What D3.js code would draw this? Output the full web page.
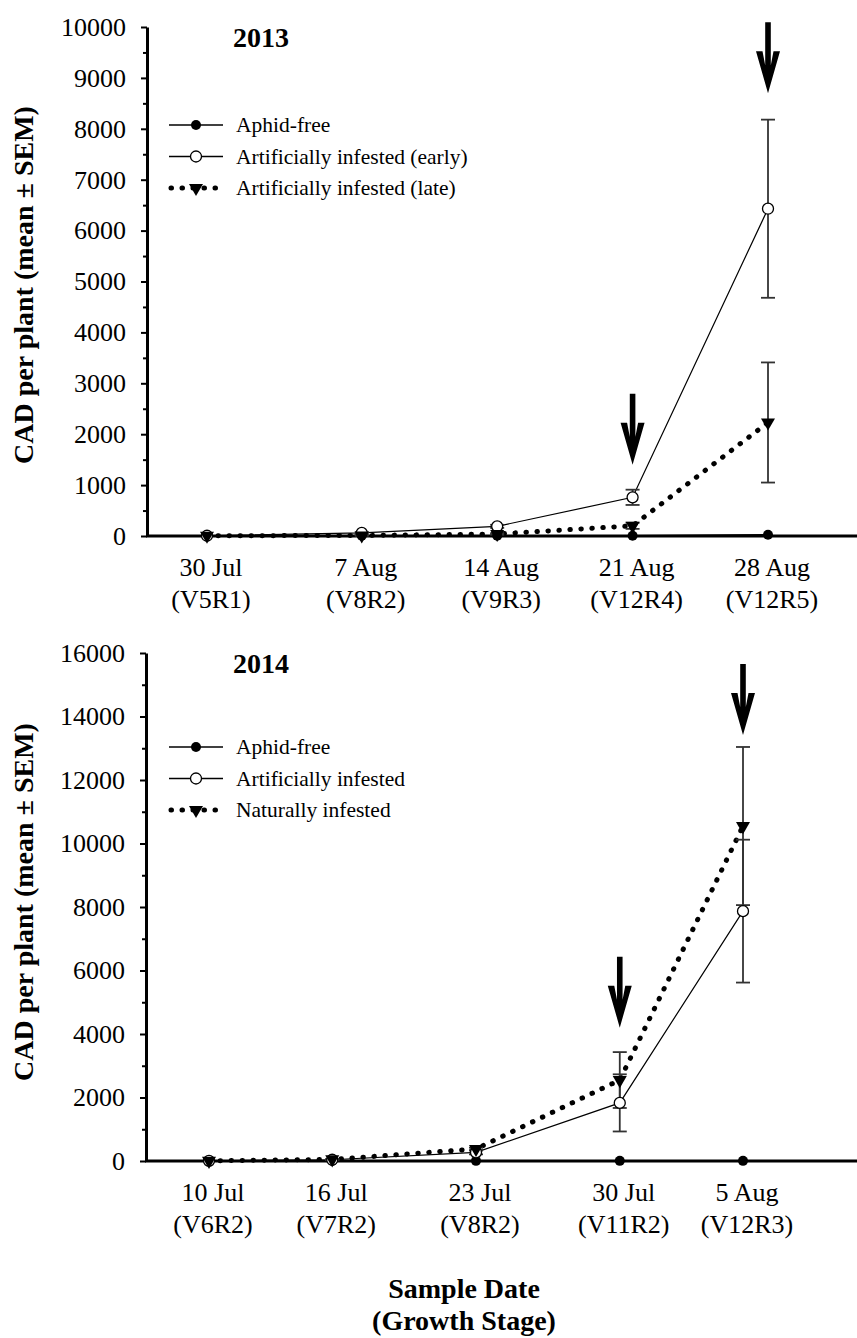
<!DOCTYPE html>
<html>
<head>
<meta charset="utf-8">
<script src="https://cdn.jsdelivr.net/npm/d3@7/dist/d3.min.js"></script>
<style>
  html, body { margin: 0; padding: 0; background: #fff; }
  svg { display: block; }
  text { font-family: "Liberation Serif", "Times New Roman", "DejaVu Serif", serif; fill: #000; }
</style>
</head>
<body>
<svg id="chart" width="857" height="1338"></svg>
<script>
// ---------------- DATA ----------------
// 2013 panel
const dates2013 = ["2013-07-30", "2013-08-07", "2013-08-14", "2013-08-21", "2013-08-28"];
const dateLabels2013 = ["30 Jul", "7 Aug", "14 Aug", "21 Aug", "28 Aug"];
const stageLabels2013 = ["(V5R1)", "(V8R2)", "(V9R3)", "(V12R4)", "(V12R5)"];
const aphidFree2013 = [5, 5, 5, 5, 25];
const aphidFreeSem2013 = [0, 0, 0, 0, 0];
const earlyInf2013 = [5, 60, 190, 760, 6430];
const earlyInfSem2013 = [0, 15, 30, 150, 1750];
const lateInf2013 = [5, 10, 40, 200, 2230];
const lateInfSem2013 = [0, 5, 15, 60, 1180];
const legend2013 = ["Aphid-free", "Artificially infested (early)", "Artificially infested (late)"];
const yTicks2013 = [0, 1000, 2000, 3000, 4000, 5000, 6000, 7000, 8000, 9000, 10000];
const yMinor2013 = [500, 1500, 2500, 3500, 4500, 5500, 6500, 7500, 8500, 9500];
const arrowDates2013 = ["2013-08-21", "2013-08-28"];
const arrowTips2013 = [1400, 8700];

// 2014 panel
const dates2014 = ["2014-07-10", "2014-07-16", "2014-07-23", "2014-07-30", "2014-08-05"];
const dateLabels2014 = ["10 Jul", "16 Jul", "23 Jul", "30 Jul", "5 Aug"];
const stageLabels2014 = ["(V6R2)", "(V7R2)", "(V8R2)", "(V11R2)", "(V12R3)"];
const aphidFree2014 = [5, 5, 5, 5, 5];
const aphidFreeSem2014 = [0, 0, 0, 0, 0];
const artInf2014 = [5, 40, 270, 1830, 7870];
const artInfSem2014 = [0, 10, 60, 900, 2250];
const natInf2014 = [5, 50, 380, 2550, 10550];
const natInfSem2014 = [0, 10, 40, 880, 2490];
const legend2014 = ["Aphid-free", "Artificially infested", "Naturally infested"];
const yTicks2014 = [0, 2000, 4000, 6000, 8000, 10000, 12000, 14000, 16000];
const yMinor2014 = [1000, 3000, 5000, 7000, 9000, 11000, 13000, 15000];
const arrowDates2014 = ["2014-07-30", "2014-08-05"];
const arrowTips2014 = [4200, 13420];

// ---------------- DRAWING ----------------
const svg = d3.select("#chart");
svg.append("rect").attr("width", 857).attr("height", 1338).attr("fill", "#fff");
const parse = d3.timeParse("%Y-%m-%d");
const FONT = '"Liberation Serif", "Times New Roman", serif';

function drawPanel(cfg) {
  const g = svg.append("g");
  const dates = cfg.dates.map(parse);
  const x = d3.scaleTime().domain([dates[0], dates[dates.length - 1]]).range([cfg.xFirst, cfg.xLast]);
  const y = d3.scaleLinear().domain([0, cfg.yMax]).range([cfg.y0, cfg.yTop]);

  // x axis line
  g.append("line")
    .attr("x1", cfg.axisX - 1).attr("x2", 857)
    .attr("y1", cfg.y0).attr("y2", cfg.y0)
    .attr("stroke", "#000").attr("stroke-width", 3);

  // y axis
  const ya = g.append("g").attr("transform", `translate(${cfg.axisX},0)`)
    .call(d3.axisLeft(y).tickValues(cfg.yTicks).tickSize(6).tickPadding(15).tickSizeOuter(0).tickFormat(d3.format("d")));
  ya.select(".domain").attr("stroke", "#000").attr("stroke-width", 3);
  ya.selectAll(".tick line").attr("stroke", "#000").attr("stroke-width", 2);
  ya.selectAll(".tick text").attr("font-family", FONT).attr("font-size", 26).attr("fill", "#000");
  const ym = g.append("g").attr("transform", `translate(${cfg.axisX},0)`)
    .call(d3.axisLeft(y).tickValues(cfg.yMinor).tickSize(4).tickFormat(""));
  ym.select(".domain").remove();
  ym.selectAll(".tick line").attr("stroke", "#000").attr("stroke-width", 2);

  // x labels
  const xl = g.append("g");
  dates.forEach((d, i) => {
    const t = xl.append("text").attr("text-anchor", "middle").attr("font-size", 26);
    t.append("tspan").attr("x", x(d) + 4).attr("y", cfg.y0 + 40).text(cfg.dateLabels[i]);
    t.append("tspan").attr("x", x(d) + 4).attr("y", cfg.y0 + 72).text(cfg.stageLabels[i]);
  });

  // series
  const line = d3.line().x(d => x(d.date)).y(d => y(d.v));
  cfg.series.forEach(s => {
    const pts = dates.map((d, i) => ({ date: d, v: s.values[i], sem: s.sem[i] }));
    s.pts = pts;
    const p = g.append("path").datum(pts).attr("d", line).attr("fill", "none").attr("stroke", "#000");
    if (s.dotted) {
      p.attr("stroke-width", 5).attr("stroke-dasharray", "0.5 10.5").attr("stroke-linecap", "round");
    } else {
      p.attr("stroke-width", s.kind === "filled" ? 1.6 : 1.2);
    }
  });
  // error bars
  cfg.series.forEach(s => {
    s.pts.filter(p => p.sem > 0).forEach(p => {
      const cx = x(p.date), yt = y(p.v + p.sem), yb = y(p.v - p.sem);
      const eg = g.append("g").attr("stroke", "#333").attr("stroke-width", 1.8);
      eg.append("line").attr("x1", cx).attr("x2", cx).attr("y1", yt).attr("y2", yb);
      eg.append("line").attr("x1", cx - 7).attr("x2", cx + 7).attr("y1", yt).attr("y2", yt);
      eg.append("line").attr("x1", cx - 7).attr("x2", cx + 7).attr("y1", yb).attr("y2", yb);
    });
  });
  // markers
  function marker(sel, kind, cx, cy) {
    if (kind === "filled") {
      sel.append("circle").attr("cx", cx).attr("cy", cy).attr("r", 5).attr("fill", "#000");
    } else if (kind === "open") {
      sel.append("circle").attr("cx", cx).attr("cy", cy).attr("r", 5.5).attr("fill", "#fff").attr("stroke", "#000").attr("stroke-width", 1.3);
    } else {
      sel.append("path").attr("d", d3.symbol(d3.symbolTriangle, 85)())
        .attr("transform", `translate(${cx},${cy}) rotate(180)`).attr("fill", "#000");
    }
  }
  cfg.series.forEach(s => {
    s.pts.forEach(p => marker(g, s.kind, x(p.date), y(p.v)));
  });

  // arrows
  cfg.arrowDates.forEach((ds, i) => {
    const ax = x(parse(ds)), ay = y(cfg.arrowTips[i]);
    g.append("path")
      .attr("d", "M0,0 L-12,-42 L-5.5,-42 L-2.8,-28 L-2.8,-71 L2.8,-71 L2.8,-28 L5.5,-42 L12,-42 Z")
      .attr("transform", `translate(${ax},${ay})`)
      .attr("fill", "#000");
  });

  // title
  g.append("text").attr("x", 233).attr("y", cfg.titleY).attr("font-size", 28).attr("font-weight", "bold").text(cfg.title);

  // legend
  const lg = g.append("g");
  cfg.series.forEach((s, i) => {
    const ly = cfg.legendY + i * 31.5;
    const l = lg.append("line").attr("x1", 169).attr("x2", 223).attr("y1", ly).attr("y2", ly).attr("stroke", "#000");
    if (s.dotted) l.attr("stroke-width", 5).attr("stroke-dasharray", "0.5 10.5").attr("stroke-linecap", "round").attr("x1", 171);
    else l.attr("stroke-width", 1.3);
    marker(lg, s.kind, 196, ly);
    lg.append("text").attr("x", 236).attr("y", ly + 7).attr("font-size", 21.5).text(cfg.legend[i]);
  });

  // y title
  g.append("text")
    .attr("transform", `translate(33,${cfg.yTitleY}) rotate(-90)`)
    .attr("text-anchor", "middle").attr("font-size", 28).attr("font-weight", "bold")
    .text("CAD per plant (mean \u00b1 SEM)");
}

drawPanel({
  dates: dates2013, dateLabels: dateLabels2013, stageLabels: stageLabels2013,
  xFirst: 207, xLast: 768, axisX: 147, y0: 536, yTop: 27, yMax: 10000,
  yTicks: yTicks2013, yMinor: yMinor2013,
  series: [
    { values: aphidFree2013, sem: aphidFreeSem2013, kind: "filled" },
    { values: earlyInf2013, sem: earlyInfSem2013, kind: "open" },
    { values: lateInf2013, sem: lateInfSem2013, kind: "tri", dotted: true }
  ],
  legend: legend2013, legendY: 125, title: "2013", titleY: 47, yTitleY: 285,
  arrowDates: arrowDates2013, arrowTips: arrowTips2013
});

drawPanel({
  dates: dates2014, dateLabels: dateLabels2014, stageLabels: stageLabels2014,
  xFirst: 209, xLast: 743, axisX: 146, y0: 1161, yTop: 653, yMax: 16000,
  yTicks: yTicks2014, yMinor: yMinor2014,
  series: [
    { values: aphidFree2014, sem: aphidFreeSem2014, kind: "filled" },
    { values: artInf2014, sem: artInfSem2014, kind: "open" },
    { values: natInf2014, sem: natInfSem2014, kind: "tri", dotted: true }
  ],
  legend: legend2014, legendY: 747, title: "2014", titleY: 673, yTitleY: 902,
  arrowDates: arrowDates2014, arrowTips: arrowTips2014
});

// x-axis title
const xt = svg.append("text").attr("text-anchor", "middle").attr("font-size", 28).attr("font-weight", "bold");
xt.append("tspan").attr("x", 464).attr("y", 1298).text("Sample Date");
xt.append("tspan").attr("x", 464).attr("y", 1330).text("(Growth Stage)");
</script>
</body>
</html>
